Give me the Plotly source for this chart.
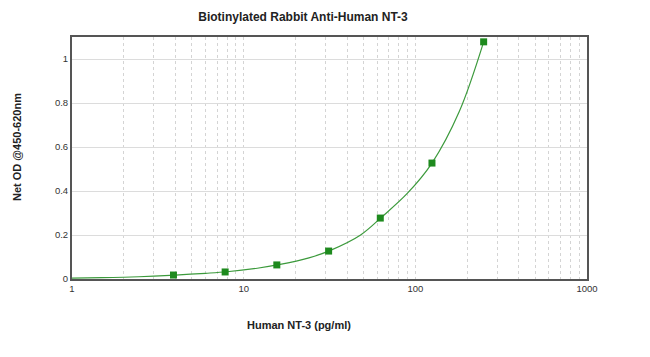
import plotly.graph_objects as go

# Standard concentrations (pg/ml) and measured net OD
conc = [3.9, 7.8, 15.6, 31.25, 62.5, 125, 250]
od = [0.018, 0.032, 0.064, 0.127, 0.277, 0.527, 1.078]

curve_x = [1, 1.5, 2, 3, 4, 6, 8, 12, 16, 24, 32, 48, 64, 90, 125, 180, 250]
curve_y = [0.004, 0.006, 0.008, 0.013, 0.018, 0.026, 0.033, 0.049, 0.065,
           0.096, 0.13, 0.2, 0.283, 0.39, 0.527, 0.76, 1.078]

# Log-axis ticks: every 1..9 per decade, labels only at decades
x_mult = [m for e in range(3) for m in range(1, 10)] + [1]
x_ticks = [m * 10 ** e for e in range(3) for m in range(1, 10)] + [1000]
x_ticktext = [str(v) if m == 1 else "" for v, m in zip(x_ticks, x_mult)]
y_ticks = [0, 0.2, 0.4, 0.6, 0.8, 1]
y_ticktext = ["0", "0.2", "0.4", "0.6", "0.8", "1"]

fig = go.Figure()
fig.add_trace(go.Scatter(x=curve_x, y=curve_y, mode="lines",
                         line=dict(color="#3c9a3c", width=1.2, shape="spline"),
                         hoverinfo="skip", showlegend=False))
fig.add_trace(go.Scatter(x=conc, y=od, mode="markers",
                         marker=dict(symbol="square", size=7, color="#1e8a1e"),
                         showlegend=False))

font = "Liberation Sans, Arial, sans-serif"
fig.update_layout(
    width=650, height=357,
    margin=dict(l=64, r=71, t=29, b=86),
    paper_bgcolor="white", plot_bgcolor="white",
    font=dict(family=font, size=10, color="#333"),
    title=dict(text="<b>Biotinylated Rabbit Anti-Human NT-3</b>",
               x=295 / 650, xanchor="center", y=1 - 9 / 357, yanchor="middle",
               font=dict(size=12, color="#222")),
    xaxis=dict(type="log", range=[0, 3], tickvals=x_ticks, ticktext=x_ticktext,
               showgrid=True, gridcolor="#d4d4d4", griddash="dot", gridwidth=1,
               showline=True, linecolor="#555", linewidth=2, mirror=True,
               ticks="", zeroline=False, tickfont=dict(size=9.5, color="#333")),
    yaxis=dict(range=[0, 1.1], tickvals=y_ticks, ticktext=y_ticktext,
               showgrid=True, gridcolor="#dcdcdc", gridwidth=1,
               showline=True, linecolor="#555", linewidth=2, mirror=True,
               ticks="", zeroline=False, tickfont=dict(size=9.5, color="#333")),
    annotations=[
        dict(text="<b>Human NT-3 (pg/ml)</b>", xref="paper", yref="paper",
             x=(291 - 64) / 515, y=-46 / 242, xanchor="center", yanchor="middle",
             showarrow=False, font=dict(size=11, color="#222")),
        dict(text="<b>Net OD @450-620nm</b>", xref="paper", yref="paper",
             x=(9 - 64) / 515, y=(271 - 139) / 242, xanchor="center",
             yanchor="middle", textangle=-90,
             showarrow=False, font=dict(size=11, color="#222")),
    ],
)

fig.write_html("out.html")
